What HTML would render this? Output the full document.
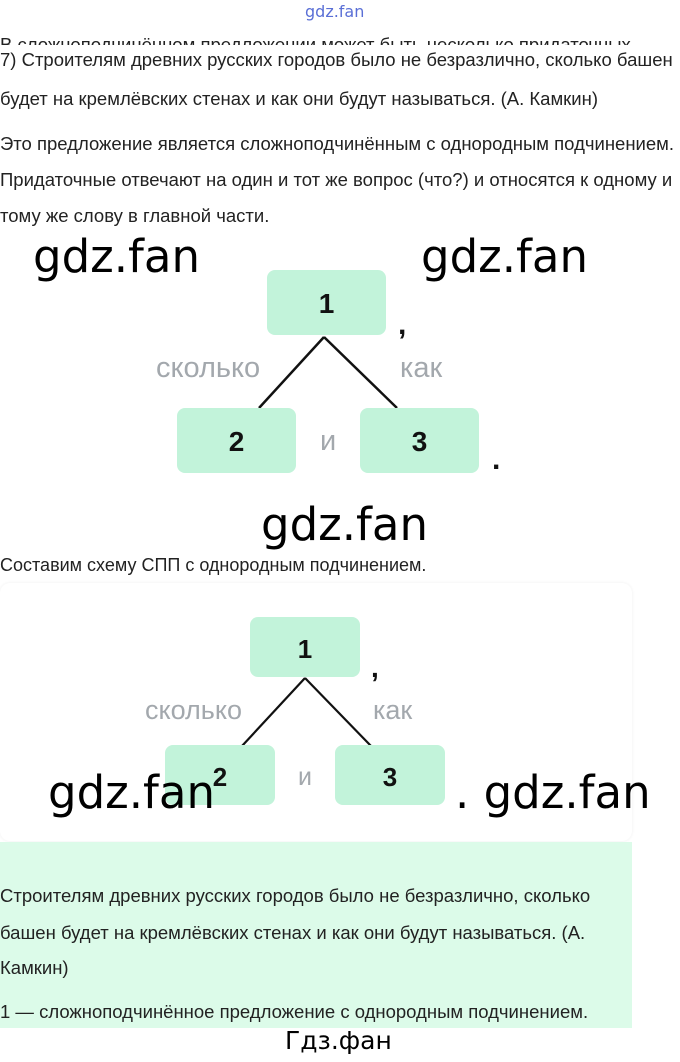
<!DOCTYPE html>
<html><head><meta charset="utf-8"><style>
body{margin:0;width:680px;height:1062px;background:#fff;position:relative;overflow:hidden;font-family:"Liberation Sans",sans-serif}
.t{position:absolute;left:0;white-space:nowrap;font-size:18.5px;color:#222;line-height:22px}
.wm{position:absolute;font-family:"DejaVu Sans",sans-serif;font-size:45px;color:#000;white-space:nowrap;line-height:50px}
.box{position:absolute;background:#c2f3da;border-radius:8px;font-weight:bold;color:#111;text-align:center;font-size:28px}
.lab{position:absolute;color:#a3a8ad;font-size:29px;white-space:nowrap;line-height:30px}
.p{position:absolute;font-weight:bold;font-size:30px;color:#111}
</style></head><body>
<div style="position:absolute;left:305px;top:2px;font-size:16px;color:#5a6fd6;font-family:'DejaVu Sans',sans-serif">gdz.fan</div>
<div style="position:absolute;left:0;top:32px;height:13px;overflow:hidden;width:680px"><div class="t" style="top:2px">В сложноподчинённом предложении может быть несколько придаточных</div></div>
<div class="t" style="top:49px">7) Строителям древних русских городов было не безразлично, сколько башен</div>
<div class="t" style="top:88px">будет на кремлёвских стенах и как они будут называться. (А. Камкин)</div>
<div class="t" style="top:133px">Это предложение является сложноподчинённым с однородным подчинением.</div>
<div class="t" style="top:169px">Придаточные отвечают на один и тот же вопрос (что?) и относятся к одному и</div>
<div class="t" style="top:205px">тому же слову в главной части.</div>

<svg style="position:absolute;left:0;top:0" width="680" height="1062">
<line x1="324" y1="337" x2="259" y2="408" stroke="#111" stroke-width="2.5"/>
<line x1="324" y1="337" x2="397" y2="408" stroke="#111" stroke-width="2.5"/>
<line x1="305" y1="678" x2="242" y2="746" stroke="#111" stroke-width="2.2"/>
<line x1="305" y1="678" x2="371" y2="746" stroke="#111" stroke-width="2.2"/>
</svg>
<div class="box" style="left:267px;top:270px;width:119px;height:65px;line-height:68px">1</div>
<div class="box" style="left:177px;top:408px;width:119px;height:65px;line-height:68px">2</div>
<div class="box" style="left:360px;top:408px;width:119px;height:65px;line-height:68px">3</div>
<div class="lab" style="left:156px;top:353px">сколько</div>
<div class="lab" style="left:400px;top:353px">как</div>
<div class="lab" style="left:320px;top:426px">и</div>
<div class="p" style="left:398px;top:308px">,</div>
<div class="p" style="left:492px;top:443px">.</div>

<div class="wm" style="left:33px;top:232px">gdz.fan</div>
<div class="wm" style="left:421px;top:232px">gdz.fan</div>
<div class="wm" style="left:261px;top:500px">gdz.fan</div>

<div class="t" style="top:554px;font-size:18px">Составим схему СПП с однородным подчинением.</div>
<div style="position:absolute;left:0;top:583px;width:632px;height:258px;border-radius:10px;box-shadow:0 0 3px #eee"></div>
<div class="box" style="left:250px;top:617px;width:110px;height:60px;line-height:64px;font-size:26px">1</div>
<div class="box" style="left:165px;top:745px;width:110px;height:60px;line-height:64px;font-size:26px">2</div>
<div class="box" style="left:335px;top:745px;width:110px;height:60px;line-height:64px;font-size:26px">3</div>
<div class="lab" style="left:145px;top:695px;font-size:27px">сколько</div>
<div class="lab" style="left:373px;top:695px;font-size:27px">как</div>
<div class="lab" style="left:298px;top:762px;font-size:25px">и</div>
<div class="p" style="left:371px;top:652px;font-size:28px">,</div>
<div class="wm" style="left:48px;top:768px">gdz.fan</div>
<div class="wm" style="left:455px;top:768px">. gdz.fan</div>

<div style="position:absolute;left:0;top:842px;width:632px;height:186px;background:#dcfbe9"></div>
<div class="t" style="top:885px">Строителям древних русских городов было не безразлично, сколько</div>
<div class="t" style="top:922px">башен будет на кремлёвских стенах и как они будут называться. (А.</div>
<div class="t" style="top:957px">Камкин)</div>
<div class="t" style="top:1001px">1 — сложноподчинённое предложение с однородным подчинением.</div>
<div style="position:absolute;left:285px;top:1026px;font-family:'DejaVu Sans',sans-serif;font-size:25px;color:#000">Гдз.фан</div>
</body></html>
